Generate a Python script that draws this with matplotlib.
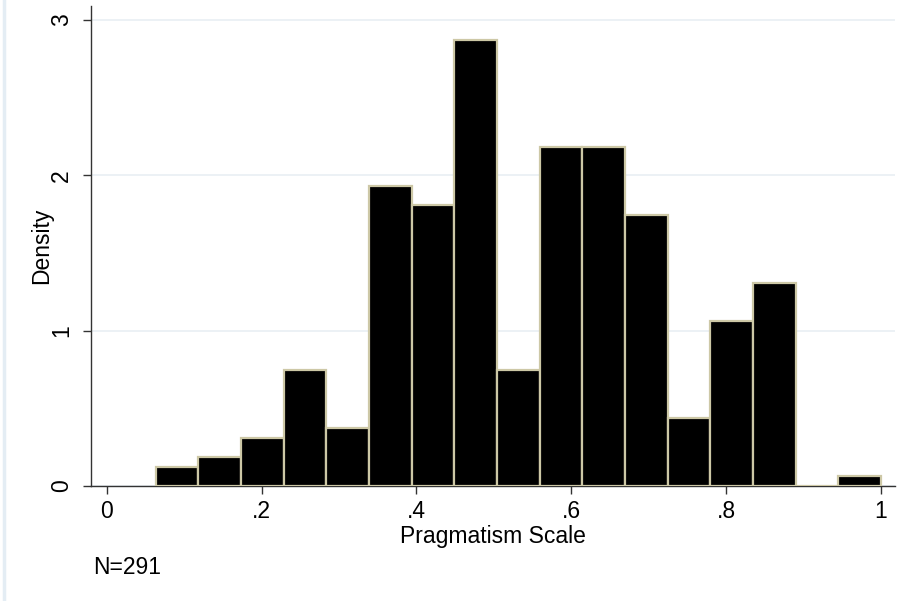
import matplotlib
matplotlib.use("Agg")
import matplotlib.pyplot as plt
from matplotlib.lines import Line2D

plt.rcParams['font.family'] = ['Liberation Sans', 'DejaVu Sans']

# Histogram of the pragmatism scale (density scale, 17 bins)
bin_start = 0.0633
bin_width = 0.0551
density = [0.125, 0.187, 0.312, 0.749, 0.374, 1.934, 1.81, 2.87, 0.749,
           2.18, 2.18, 1.747, 0.437, 1.06, 1.31, 0.0, 0.062]
n_obs = 291

x_ticks = [0, 0.2, 0.4, 0.6, 0.8, 1]
x_ticklabels = ["0", ".2", ".4", ".6", ".8", "1"]
y_ticks = [0, 1, 2, 3]

left_edges = [bin_start + i * bin_width for i in range(len(density))]

fig = plt.figure(figsize=(9.14, 6.01), dpi=100)
ax = fig.add_axes([0.0996, 0.1913, 0.8794, 0.7987])

ax.bar(left_edges, density, width=bin_width, align="edge",
       color="black", edgecolor="#cdc8a6", linewidth=1.6, zorder=3)

ax.set_xlim(-0.0203, 1.018)
ax.set_ylim(0, 3.09)

ax.set_xticks(x_ticks)
ax.set_xticklabels(x_ticklabels)
ax.set_yticks(y_ticks)
ax.set_yticklabels([str(v) for v in y_ticks], rotation=90, va="center")

ax.tick_params(axis="both", direction="out", length=6, width=1.0,
               color="#333333", labelsize=16.5)
ax.tick_params(axis="x", pad=4)
ax.tick_params(axis="y", pad=7)

ax.yaxis.grid(True, color="#eaf0f4", linewidth=1.3, zorder=0)
ax.set_axisbelow(True)

for side in ["top", "right"]:
    ax.spines[side].set_visible(False)
for side in ["left", "bottom"]:
    ax.spines[side].set_color("#333333")
    ax.spines[side].set_linewidth(1.0)

ax.set_xlabel("Pragmatism Scale", fontsize=16.5, labelpad=1.5)
ax.set_ylabel("Density", fontsize=16.5, labelpad=-2)

fig.text(93 / 914, 1 - 567 / 601, "N=%d" % n_obs, fontsize=16.5,
         ha="left", va="center")

# thin frame line along the left edge of the graph window
fig.add_artist(Line2D([4 / 914, 4 / 914], [0, 1], transform=fig.transFigure,
                      color="#e4edf4", linewidth=2.5))

fig.savefig("out.png", dpi=100)
